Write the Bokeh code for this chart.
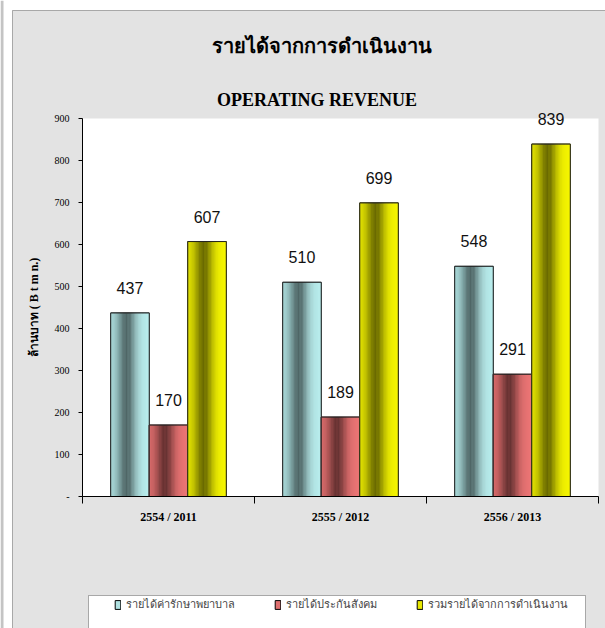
import numpy as np
from bokeh.plotting import figure
from bokeh.models import (FixedTicker, Range1d, Label, Legend, LegendItem,
                          BoxAnnotation)
from bokeh.core.properties import value
from bokeh.embed import file_html
from bokeh.resources import INLINE

# ---------------- data ----------------
categories = ["2554 / 2011", "2555 / 2012", "2556 / 2013"]
series_names = ["รายได้ค่ารักษาพยาบาล", "รายได้ประกันสังคม", "รวมรายได้จากการดำเนินงาน"]
medical = [437, 510, 548]
social = [170, 189, 291]
total = [607, 699, 839]
y_ticks = [0, 100, 200, 300, 400, 500, 600, 700, 800, 900]
title_th = "รายได้จากการดำเนินงาน"
title_en = "OPERATING   REVENUE"
y_label = "ล้านบาท ( B t m n.)"

series_values = [medical, social, total]

# ---------------- layout (pixels of the 605x628 page) ----------------
W, H = 605, 628
AX_L, AX_R = 82, 598      # plot area left/right
AX_B, AX_T = 496, 118     # y of value 0 and of value 900
NCAT = len(categories)
YMAX = y_ticks[-1]
sx = (AX_R - AX_L) / NCAT          # px per category
sy = (AX_B - AX_T) / YMAX          # px per unit

def dx(px):
    return (px - AX_L) / sx

def dy(py):
    return (AX_B - py) / sy

BG = "#e3e3e3"
bases = [(186, 238, 238), (236, 118, 118), (246, 246, 0)]
offsets = [-0.224, 0.0, 0.224]
bar_w = 0.224
N = 28

def shade(base, t):
    d = 0.52 * np.exp(-((t - 0.42) / 0.24) ** 2) + 0.07 * (1 - t)
    r, g, b = [int(max(0, min(255, c * (1 - d)))) for c in base]
    return "#%02x%02x%02x" % (r, g, b)

p = figure(width=W, height=H, x_range=Range1d(dx(0), dx(W)), y_range=Range1d(dy(H), dy(0)),
           output_backend="svg", toolbar_location=None, title=None,
           min_border=0, background_fill_color="white",
           border_fill_color="white", outline_line_color=None)
p.grid.visible = False

# page frame + textured-grey area + white plot area
p.add_layout(BoxAnnotation(left=dx(0), right=dx(3), bottom=dy(H), top=dy(0),
                           fill_color="#c4c4c4", fill_alpha=1, line_color=None,
                           level="underlay"))
p.add_layout(BoxAnnotation(left=dx(12), right=dx(W + 5), bottom=dy(H + 5), top=dy(10),
                           fill_color=BG, fill_alpha=1, line_color="black", line_width=1,
                           level="underlay"))
p.add_layout(BoxAnnotation(bottom=0, top=YMAX, left=0, right=NCAT, fill_color="white",
                           fill_alpha=1, line_color=None, level="underlay"))

legend_renderers = []
for s, vals in enumerate(series_values):
    centers = [i + 0.5 + offsets[s] for i in range(NCAT)]
    mid = shade(bases[s], 0.8)
    r = p.vbar(x=centers, top=vals, width=bar_w, fill_color=mid, line_color="black")
    legend_renderers.append(r)
    for k in range(N):
        t = (k + 0.5) / N
        xs = [c - bar_w / 2 + t * bar_w for c in centers]
        col = shade(bases[s], t)
        p.vbar(x=xs, top=vals, width=bar_w / N, fill_color=col, line_color=col,
               line_width=0.5)
    p.vbar(x=centers, top=vals, width=bar_w, fill_color=None, line_color="#222222",
           line_width=1)
    p.text(x=centers, y=vals, text=[str(v) for v in vals], text_align="center",
           text_baseline="middle", y_offset=-25, text_font=value("Liberation Sans"),
           text_font_size="16px", text_color="#111111")

# axes fixed at the data origin
p.yaxis.fixed_location = 0
p.yaxis.bounds = (0, YMAX)
p.yaxis.ticker = FixedTicker(ticks=y_ticks)
p.yaxis.major_label_overrides = {0: "-"}
p.yaxis.minor_tick_line_color = None
p.yaxis.major_tick_out = 4
p.yaxis.major_tick_in = 0
p.yaxis.major_label_standoff = 9
p.yaxis.major_label_text_font = "Liberation Serif"
p.yaxis.major_label_text_font_size = "10px"
p.yaxis.major_label_text_color = "black"
p.yaxis.axis_label = y_label
p.yaxis.axis_label_text_font = "Liberation Serif"
p.yaxis.axis_label_text_font_size = "12px"
p.yaxis.axis_label_text_font_style = "bold"
p.yaxis.axis_label_text_color = "black"
p.yaxis.axis_label_standoff = 11
p.yaxis.axis_line_color = "black"
p.yaxis.major_tick_line_color = "black"

p.xaxis.fixed_location = 0
p.xaxis.bounds = (0, NCAT)
p.xaxis.ticker = FixedTicker(ticks=[i + 0.5 for i in range(NCAT)],
                             minor_ticks=list(range(NCAT + 1)))
p.xaxis.major_label_overrides = {i + 0.5: c for i, c in enumerate(categories)}
p.xaxis.major_tick_line_color = None
p.xaxis.major_tick_out = 0
p.xaxis.major_tick_in = 0
p.xaxis.minor_tick_out = 7
p.xaxis.minor_tick_in = 0
p.xaxis.minor_tick_line_color = "black"
p.xaxis.major_label_standoff = 6
p.xaxis.major_label_text_font = "Liberation Serif"
p.xaxis.major_label_text_font_style = "bold"
p.xaxis.major_label_text_font_size = "12px"
p.xaxis.major_label_text_color = "black"
p.xaxis.axis_line_color = "black"

# titles
p.add_layout(Label(x=dx(321), y=dy(45), text=title_th,
                   text_align="center", text_baseline="middle",
                   text_font="Liberation Serif", text_font_size="20px",
                   text_font_style="bold", text_color="black"))
p.add_layout(Label(x=dx(321), y=dy(99), text=title_en,
                   text_align="center", text_baseline="middle",
                   text_font="Liberation Serif", text_font_size="18px",
                   text_font_style="bold", text_color="black"))

# legend box + legend
p.add_layout(BoxAnnotation(left=dx(88), right=dx(585), top=dy(595), bottom=dy(H + 10),
                           fill_color="white", fill_alpha=1, line_color="black",
                           line_width=1))
legend = Legend(items=[LegendItem(label=n, renderers=[r]) for n, r in zip(series_names, legend_renderers)],
                orientation="horizontal", location=(114, H - 606 - 7), padding=0, spacing=39,
                margin=0, border_line_color=None, background_fill_alpha=0,
                glyph_width=7, glyph_height=11, label_standoff=5, label_height=14,
                label_text_font="Liberation Serif", label_text_font_size="11px")
p.add_layout(legend)

open("out.html", "w").write(file_html(p, INLINE))
